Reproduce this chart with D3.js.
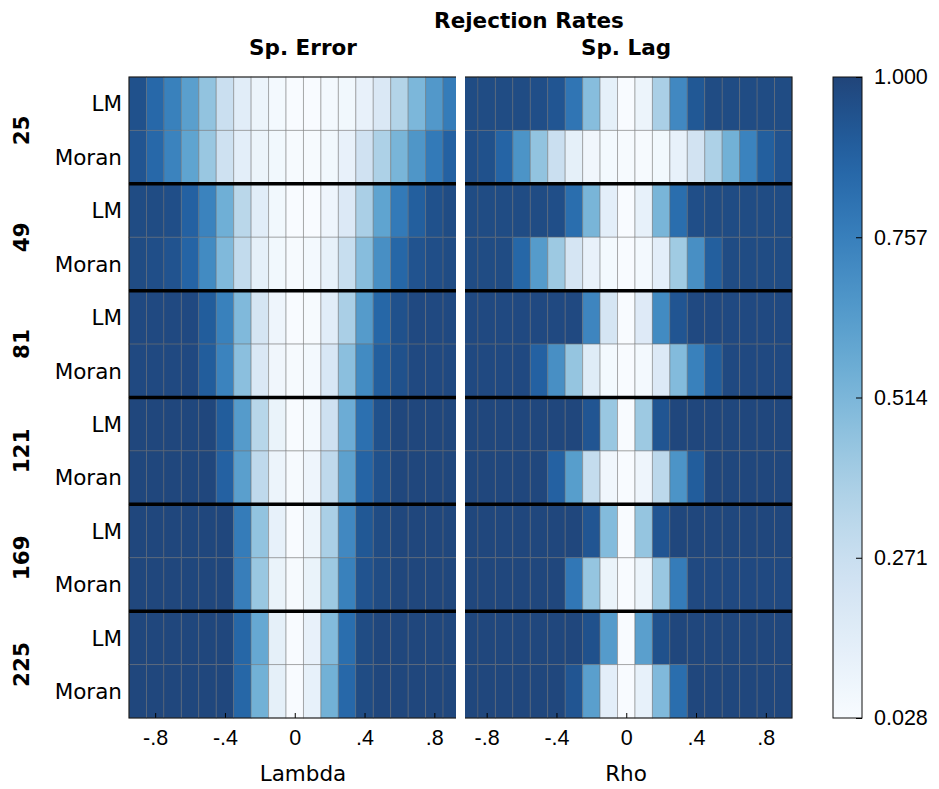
<!DOCTYPE html>
<html>
<head>
<meta charset="utf-8">
<script src="https://cdn.jsdelivr.net/npm/d3@7"></script>
<style>
  body { margin: 0; background: #fff; }
  svg { font-family: "DejaVu Sans", sans-serif; }
</style>
</head>
<body>
<div id="chart"></div>
<script>
// sample sizes (one group of two rows each) and tests
var sizes = [25, 49, 81, 121, 169, 225];
var tests = ["LM", "Moran"];
// parameter values (columns), same for lambda and rho
var params = [-0.9, -0.8, -0.7, -0.6, -0.5, -0.4, -0.3, -0.2, -0.1, 0, 0.1, 0.2, 0.3, 0.4, 0.5, 0.6, 0.7, 0.8, 0.9];
var xTicks = [-0.8, -0.4, 0, 0.4, 0.8];
var cbTicks = [0.028, 0.271, 0.514, 0.757, 1.000];

// rejection rates, spatial error DGP (one row per sample size)
var errorLM = [
  [0.95, 0.85, 0.75, 0.62, 0.45, 0.27, 0.15, 0.09, 0.05, 0.03, 0.03, 0.05, 0.06, 0.11, 0.19, 0.35, 0.51, 0.65, 0.77],
  [0.97, 0.97, 0.96, 0.88, 0.74, 0.55, 0.33, 0.15, 0.06, 0.03, 0.03, 0.08, 0.18, 0.38, 0.60, 0.78, 0.89, 0.95, 0.97],
  [0.98, 0.98, 0.98, 0.98, 0.90, 0.75, 0.50, 0.22, 0.08, 0.03, 0.04, 0.15, 0.38, 0.64, 0.86, 0.95, 0.98, 0.98, 0.98],
  [0.99, 0.99, 0.99, 0.99, 0.99, 0.90, 0.64, 0.34, 0.10, 0.03, 0.05, 0.25, 0.56, 0.82, 0.95, 0.99, 0.99, 0.99, 0.99],
  [0.99, 0.99, 0.99, 0.99, 0.99, 0.99, 0.77, 0.45, 0.12, 0.03, 0.09, 0.38, 0.72, 0.92, 0.97, 0.99, 0.99, 0.99, 0.99],
  [0.99, 0.99, 0.99, 0.99, 0.99, 0.99, 0.86, 0.58, 0.13, 0.03, 0.11, 0.49, 0.83, 0.97, 0.99, 0.99, 0.99, 0.99, 0.99]
];
var errorMoran = [
  [0.93, 0.85, 0.74, 0.60, 0.43, 0.25, 0.14, 0.09, 0.06, 0.04, 0.04, 0.06, 0.11, 0.24, 0.37, 0.52, 0.66, 0.78, 0.88],
  [0.97, 0.96, 0.94, 0.87, 0.71, 0.50, 0.30, 0.13, 0.06, 0.04, 0.05, 0.12, 0.28, 0.48, 0.69, 0.86, 0.94, 0.96, 0.97],
  [0.98, 0.98, 0.98, 0.98, 0.90, 0.74, 0.47, 0.19, 0.07, 0.04, 0.05, 0.20, 0.47, 0.71, 0.89, 0.95, 0.98, 0.98, 0.98],
  [0.99, 0.99, 0.99, 0.99, 0.99, 0.88, 0.62, 0.31, 0.09, 0.04, 0.08, 0.31, 0.61, 0.87, 0.95, 0.99, 0.99, 0.99, 0.99],
  [0.99, 0.99, 0.99, 0.99, 0.99, 0.99, 0.76, 0.43, 0.10, 0.04, 0.10, 0.42, 0.75, 0.94, 0.97, 0.99, 0.99, 0.99, 0.99],
  [0.99, 0.99, 0.99, 0.99, 0.99, 0.99, 0.86, 0.54, 0.13, 0.03, 0.12, 0.54, 0.85, 0.97, 0.99, 0.99, 0.99, 0.99, 0.99]
];
// rejection rates, spatial lag DGP
var lagLM = [
  [0.97, 0.97, 0.97, 0.97, 0.96, 0.93, 0.80, 0.48, 0.13, 0.03, 0.09, 0.38, 0.72, 0.92, 0.97, 0.97, 0.97, 0.97, 0.97],
  [0.97, 0.97, 0.97, 0.97, 0.97, 0.96, 0.83, 0.52, 0.14, 0.03, 0.12, 0.52, 0.83, 0.96, 0.97, 0.97, 0.97, 0.97, 0.97],
  [0.98, 0.98, 0.98, 0.98, 0.98, 0.98, 0.98, 0.73, 0.22, 0.03, 0.17, 0.71, 0.93, 0.98, 0.98, 0.98, 0.98, 0.98, 0.98],
  [0.99, 0.99, 0.99, 0.99, 0.99, 0.99, 0.99, 0.93, 0.43, 0.03, 0.42, 0.93, 0.99, 0.99, 0.99, 0.99, 0.99, 0.99, 0.99],
  [0.99, 0.99, 0.99, 0.99, 0.99, 0.99, 0.99, 0.93, 0.49, 0.03, 0.44, 0.93, 0.99, 0.99, 0.99, 0.99, 0.99, 0.99, 0.99],
  [0.99, 0.99, 0.99, 0.99, 0.99, 0.99, 0.99, 0.95, 0.64, 0.03, 0.62, 0.95, 0.99, 0.99, 0.99, 0.99, 0.99, 0.99, 0.99]
];
var lagMoran = [
  [0.96, 0.95, 0.87, 0.67, 0.45, 0.27, 0.13, 0.07, 0.05, 0.04, 0.04, 0.06, 0.12, 0.23, 0.37, 0.54, 0.74, 0.89, 0.94],
  [0.97, 0.97, 0.97, 0.86, 0.64, 0.42, 0.22, 0.11, 0.05, 0.03, 0.05, 0.14, 0.41, 0.69, 0.89, 0.97, 0.97, 0.97, 0.97],
  [0.98, 0.98, 0.98, 0.98, 0.88, 0.69, 0.44, 0.16, 0.05, 0.03, 0.05, 0.18, 0.49, 0.75, 0.90, 0.98, 0.98, 0.98, 0.98],
  [0.99, 0.99, 0.99, 0.99, 0.99, 0.88, 0.63, 0.29, 0.07, 0.03, 0.08, 0.32, 0.67, 0.90, 0.99, 0.99, 0.99, 0.99, 0.99],
  [0.99, 0.99, 0.99, 0.99, 0.99, 0.99, 0.79, 0.44, 0.10, 0.03, 0.09, 0.43, 0.77, 0.98, 0.98, 0.98, 0.98, 0.98, 0.98],
  [0.99, 0.99, 0.99, 0.99, 0.99, 0.99, 0.93, 0.62, 0.14, 0.03, 0.12, 0.50, 0.83, 0.99, 0.99, 0.99, 0.99, 0.99, 0.99]
];

var width = 939, height = 789;
var plotLeft = 129, plotRight = 792, plotTop = 77, plotBottom = 718;
var mid = (plotLeft + plotRight) / 2;
var fontSize = 21.5;

var svg = d3.select('#chart').append('svg')
  .attr('width', width)
  .attr('height', height);

var color = d3.scaleSequential(d3.interpolateBlues).domain([0.028, 1.0]);

// one row per (size, test)
var rowKeys = [];
sizes.forEach(function(s) { tests.forEach(function(t) { rowKeys.push(s + '-' + t); }); });
var y = d3.scaleBand().domain(rowKeys).range([plotTop, plotBottom]);

var panels = [
  { name: 'Sp. Error', label: 'Lambda', LM: errorLM, Moran: errorMoran, labelX: 303,
    x: d3.scaleLinear().domain([-0.95, 0.95]).range([plotLeft, mid]) },
  { name: 'Sp. Lag', label: 'Rho', LM: lagLM, Moran: lagMoran, labelX: 626,
    x: d3.scaleLinear().domain([-0.95, 0.95]).range([mid, plotRight]) }
];

// matplotlib-like ".8", "-.8", "0"
var fmt = function(d) {
  if (d === 0) return '0';
  return (d < 0 ? '-' : '') + d3.format('.1f')(Math.abs(d)).replace('0.', '.');
};

panels.forEach(function(p) {
  var cells = [];
  sizes.forEach(function(s, si) {
    tests.forEach(function(t) {
      p[t][si].forEach(function(v, j) {
        cells.push({ row: s + '-' + t, param: params[j], value: v });
      });
    });
  });

  svg.append('g').selectAll('rect')
    .data(cells)
    .enter()
    .append('rect')
    .attr('x', function(d) { return p.x(d.param - 0.05); })
    .attr('y', function(d) { return y(d.row); })
    .attr('width', function(d) { return p.x(d.param + 0.05) - p.x(d.param - 0.05); })
    .attr('height', y.bandwidth())
    .attr('fill', function(d) { return color(d.value); })
    .attr('fill-opacity', 0.9)
    .attr('stroke', 'rgba(110,110,110,0.45)')
    .attr('stroke-width', 1);

  // x axis, ticks inside
  var ax = svg.append('g')
    .attr('transform', 'translate(0,' + plotBottom + ')')
    .call(d3.axisBottom(p.x).tickValues(xTicks).tickFormat(fmt).tickSize(-5).tickPadding(12));
  ax.select('.domain').remove();
  ax.selectAll('.tick line').attr('stroke', '#000');
  ax.selectAll('text').style('font-size', fontSize + 'px').attr('fill', '#000');

  svg.append('text')
    .attr('x', p.labelX).attr('y', 55)
    .attr('text-anchor', 'middle')
    .style('font-size', fontSize + 'px').style('font-weight', 'bold')
    .text(p.name);

  svg.append('text')
    .attr('x', p.labelX).attr('y', 781)
    .attr('text-anchor', 'middle')
    .style('font-size', fontSize + 'px')
    .text(p.label);
});

// frame
svg.append('rect')
  .attr('x', plotLeft).attr('y', plotTop)
  .attr('width', plotRight - plotLeft).attr('height', plotBottom - plotTop)
  .attr('fill', 'none').attr('stroke', '#111').attr('stroke-width', 1);

// black separators between sample sizes
svg.append('g').selectAll('line')
  .data(sizes.slice(1))
  .enter()
  .append('line')
  .attr('x1', plotLeft).attr('x2', plotRight)
  .attr('y1', function(s) { return y(s + '-LM'); })
  .attr('y2', function(s) { return y(s + '-LM'); })
  .attr('stroke', '#000').attr('stroke-width', 3.5);

// white gap between the two panels
svg.append('rect')
  .attr('x', mid - 4.5).attr('y', plotTop - 1)
  .attr('width', 9).attr('height', plotBottom - plotTop + 2)
  .attr('fill', '#fff');

// row labels
svg.append('g').selectAll('text')
  .data(rowKeys)
  .enter()
  .append('text')
  .attr('x', 122)
  .attr('y', function(d) { return y(d) + y.bandwidth() / 2; })
  .attr('dy', '0.36em')
  .attr('text-anchor', 'end')
  .style('font-size', fontSize + 'px')
  .text(function(d) { return d.split('-')[1]; });

// group labels (sample size)
svg.append('g').selectAll('text')
  .data(sizes)
  .enter()
  .append('text')
  .attr('transform', function(s) {
    return 'translate(29,' + (y(s + '-LM') + y.bandwidth()) + ') rotate(-90)';
  })
  .attr('text-anchor', 'middle')
  .style('font-size', fontSize + 'px').style('font-weight', 'bold')
  .text(function(s) { return s; });

// title
svg.append('text')
  .attr('x', 529).attr('y', 28)
  .attr('text-anchor', 'middle')
  .style('font-size', fontSize + 'px').style('font-weight', 'bold')
  .text('Rejection Rates');

// colorbar
var cbX = 833, cbW = 29;
var cbScale = d3.scaleLinear().domain([0.028, 1.0]).range([plotBottom, plotTop]);
var grad = svg.append('defs').append('linearGradient')
  .attr('id', 'cbgrad')
  .attr('x1', 0).attr('y1', 1).attr('x2', 0).attr('y2', 0);
d3.range(0, 1.0001, 0.05).forEach(function(t) {
  grad.append('stop')
    .attr('offset', t)
    .attr('stop-color', d3.interpolateBlues(t))
    .attr('stop-opacity', 0.9);
});
svg.append('rect')
  .attr('x', cbX).attr('y', plotTop)
  .attr('width', cbW).attr('height', plotBottom - plotTop)
  .attr('fill', 'url(#cbgrad)')
  .attr('stroke', '#111').attr('stroke-width', 1);

var cb = svg.append('g')
  .attr('transform', 'translate(' + (cbX + cbW) + ',0)')
  .call(d3.axisRight(cbScale).tickValues(cbTicks).tickFormat(d3.format('.3f')).tickSize(-6).tickPadding(12));
cb.select('.domain').remove();
cb.selectAll('.tick line').attr('stroke', '#000');
cb.selectAll('text').style('font-size', fontSize + 'px').attr('fill', '#000');
</script>
</body>
</html>
